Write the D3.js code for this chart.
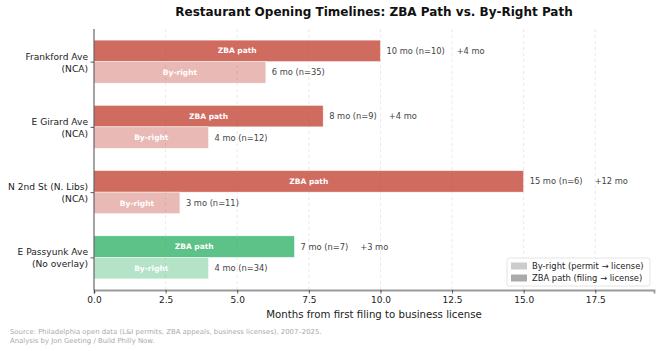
<!DOCTYPE html>
<html>
<head>
<meta charset="utf-8">
<script src="https://cdn.jsdelivr.net/npm/d3@7"></script>
<style>
  body { margin: 0; background: #fff; }
  text { font-family: "DejaVu Sans", sans-serif; }
</style>
</head>
<body>
<script>
// data
const corridors = ["Frankford Ave", "E Girard Ave", "N 2nd St (N. Libs)", "E Passyunk Ave"];
const overlays = ["(NCA)", "(NCA)", "(NCA)", "(No overlay)"];
const zbaMonths = [10, 8, 15, 7];
const zbaN = [10, 9, 6, 7];
const byRightMonths = [6, 4, 3, 4];
const byRightN = [35, 12, 11, 34];
const xTicks = [0, 2.5, 5, 7.5, 10, 12.5, 15, 17.5];

const W = 660, H = 351;
const margin = {top: 29, right: 6, bottom: 61, left: 94};
const width = W - margin.left - margin.right;
const height = H - margin.top - margin.bottom;

const baseColor = (o) => o === "(NCA)" ? "#c0392b" : "#27ae60";

const svg = d3.select("body").append("svg")
    .attr("width", W)
    .attr("height", H);

const g = svg.append("g")
    .attr("transform", "translate(" + margin.left + "," + margin.top + ")");

const xScale = d3.scaleLinear().domain([0, 19.55]).range([0, width]);
const yScale = d3.scaleLinear().domain([-0.5, 3.5]).range([0, height]);
const barH = yScale(0.33) - yScale(0);

// grid
g.selectAll("line.grid").data(xTicks.slice(1)).enter().append("line")
    .attr("class", "grid")
    .attr("x1", (d) => xScale(d)).attr("x2", (d) => xScale(d))
    .attr("y1", 0).attr("y2", height)
    .attr("stroke", "#e2e2e2")
    .attr("stroke-width", 0.8)
    .attr("stroke-dasharray", "3,3");

const rows = corridors.map((c, i) => ({
    i: i, name: c, overlay: overlays[i],
    zba: zbaMonths[i], zn: zbaN[i], br: byRightMonths[i], bn: byRightN[i]
}));

// ZBA bars
g.selectAll("rect.zba").data(rows).enter().append("rect")
    .attr("class", "zba")
    .attr("x", xScale(0))
    .attr("y", (d) => yScale(d.i) - barH)
    .attr("width", (d) => xScale(d.zba) - xScale(0))
    .attr("height", barH)
    .attr("fill", (d) => baseColor(d.overlay))
    .attr("fill-opacity", 0.75)
    .attr("stroke", "#fff")
    .attr("stroke-width", 0.5);

// by-right bars
g.selectAll("rect.br").data(rows).enter().append("rect")
    .attr("class", "br")
    .attr("x", xScale(0))
    .attr("y", (d) => yScale(d.i))
    .attr("width", (d) => xScale(d.br) - xScale(0))
    .attr("height", barH)
    .attr("fill", (d) => baseColor(d.overlay))
    .attr("fill-opacity", 0.35)
    .attr("stroke", "#fff")
    .attr("stroke-width", 0.5);

// labels inside bars
g.selectAll("text.zbaIn").data(rows).enter().append("text")
    .attr("x", (d) => xScale(d.zba / 2))
    .attr("y", (d) => yScale(d.i) - barH / 2)
    .attr("dy", "0.35em")
    .attr("text-anchor", "middle")
    .attr("fill", "#fff")
    .attr("font-size", "7.5px")
    .attr("font-weight", "bold")
    .text("ZBA path");

g.selectAll("text.brIn").data(rows).enter().append("text")
    .attr("x", (d) => xScale(d.br / 2))
    .attr("y", (d) => yScale(d.i) + barH / 2)
    .attr("dy", "0.35em")
    .attr("text-anchor", "middle")
    .attr("fill", "#fff")
    .attr("font-size", "7.5px")
    .attr("font-weight", "bold")
    .text("By-right");

// value labels
const zl = g.selectAll("text.zbaVal").data(rows).enter().append("text")
    .attr("x", (d) => xScale(d.zba) + 6)
    .attr("y", (d) => yScale(d.i) - barH / 2)
    .attr("dy", "0.35em")
    .attr("fill", "#444")
    .attr("font-size", "8.3px");
zl.append("tspan").text((d) => d.zba + " mo (n=" + d.zn + ")");
zl.append("tspan").attr("dx", 12).text((d) => "+" + (d.zba - d.br) + " mo");

g.selectAll("text.brVal").data(rows).enter().append("text")
    .attr("x", (d) => xScale(d.br) + 6)
    .attr("y", (d) => yScale(d.i) + barH / 2)
    .attr("dy", "0.35em")
    .attr("fill", "#444")
    .attr("font-size", "8.3px")
    .text((d) => d.br + " mo (n=" + d.bn + ")");

// x axis
const xAxis = d3.axisBottom(xScale).tickValues(xTicks).tickFormat(d3.format(".1f")).tickSize(3.5).tickPadding(3);
const gx = g.append("g")
    .attr("transform", "translate(0," + height + ")")
    .call(xAxis);
gx.select(".domain").attr("stroke", "#999").attr("stroke-width", 1.8);
gx.selectAll(".tick line").attr("stroke", "#333").attr("stroke-width", 0.8);
gx.selectAll(".tick text").attr("font-size", "9px").attr("fill", "#222").attr("font-family", "DejaVu Sans");

// y axis
const yAxis = d3.axisLeft(yScale).tickValues(rows.map((d) => d.i)).tickFormat("").tickSize(3.5);
const gy = g.append("g").call(yAxis);
gy.select(".domain").attr("stroke", "#333").attr("stroke-width", 0.9).attr("d", "M0,0V" + height);
gy.selectAll(".tick line").attr("stroke", "#333").attr("stroke-width", 0.8);

const yl = g.selectAll("text.ylab").data(rows).enter().append("text")
    .attr("text-anchor", "end")
    .attr("font-size", "9.1px")
    .attr("fill", "#222");
yl.append("tspan").attr("x", -6).attr("y", (d) => yScale(d.i) - 2).text((d) => d.name);
yl.append("tspan").attr("x", -6).attr("y", (d) => yScale(d.i) + 10).text((d) => d.overlay);

// x axis title
g.append("text")
    .attr("x", width / 2)
    .attr("y", height + 28)
    .attr("text-anchor", "middle")
    .attr("font-size", "10.2px")
    .attr("fill", "#222")
    .text("Months from first filing to business license");

// title
svg.append("text")
    .attr("x", margin.left + width / 2)
    .attr("y", 16)
    .attr("text-anchor", "middle")
    .attr("font-size", "12px")
    .attr("font-weight", "bold")
    .attr("fill", "#111")
    .text("Restaurant Opening Timelines: ZBA Path vs. By-Right Path");

// legend
const legendItems = [
    {label: "By-right (permit \u2192 license)", color: "#cccccc"},
    {label: "ZBA path (filing \u2192 license)", color: "#aaaaaa"}
];
const lg = svg.append("g").attr("transform", "translate(507,258)");
lg.append("rect")
    .attr("width", 143).attr("height", 28).attr("rx", 2)
    .attr("fill", "#fff").attr("fill-opacity", 0.85)
    .attr("stroke", "#ddd").attr("stroke-width", 0.8);
const li = lg.selectAll("g.item").data(legendItems).enter().append("g")
    .attr("transform", (d, i) => "translate(4," + (4 + i * 12) + ")");
li.append("rect").attr("width", 16).attr("height", 7).attr("y", 0.5).attr("fill", (d) => d.color);
li.append("text").attr("x", 21).attr("y", 4).attr("dy", "0.35em")
    .attr("font-size", "8.4px").attr("fill", "#222").text((d) => d.label);

// source
const src = svg.append("text")
    .attr("font-size", "6.9px")
    .attr("fill", "#aaa");
src.append("tspan").attr("x", 10).attr("y", 334)
    .text("Source: Philadelphia open data (L&I permits, ZBA appeals, business licenses), 2007\u20132025.");
src.append("tspan").attr("x", 10).attr("y", 343)
    .text("Analysis by Jon Geeting / Build Philly Now.");
</script>
</body>
</html>
